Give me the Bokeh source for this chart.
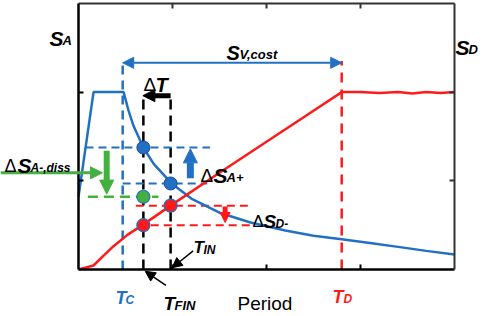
from bokeh.plotting import figure
from bokeh.models import Range1d, LinearAxis, FixedTicker, Label, Arrow, NormalHead
from bokeh.embed import file_html
from bokeh.resources import INLINE

# ---------------- data ----------------
period_sa = [0.0, 0.16, 0.48, 0.53, 0.585, 0.69, 0.80, 0.99, 1.2, 1.5, 1.83, 2.2, 2.5, 2.8, 3.1, 3.4, 3.7, 4.0]
sa = [0.82, 2.0, 2.0, 1.80, 1.62, 1.375, 1.19, 0.97, 0.80, 0.64, 0.53, 0.44, 0.38, 0.34, 0.30, 0.255, 0.21, 0.17]

period_sd = [0.0, 0.16, 0.27, 0.37, 0.52, 0.68, 0.98, 1.5, 2.0, 2.5, 2.8, 3.0, 3.2, 3.4, 3.55, 3.7, 3.85, 4.0]
sd = [0.0, 0.045, 0.16, 0.26, 0.39, 0.50, 0.72, 1.09, 1.44, 1.79, 2.0, 2.0, 1.99, 2.0, 1.985, 2.0, 1.99, 2.0]

Tc, TD = 0.47, 2.80
T_fin, T_in = 0.69, 0.98
sa_fin, sa_in = 1.375, 0.97
sd_fin, sd_in = 0.50, 0.72
sa_diss = 0.82
sv_level = 2.33
dT_level = 1.96

x_bounds = (0, 4)
y_bounds = (0, 3)
x_ticks = [1, 2, 3]
y_ticks = [1, 2]

BLUE = "#2270C4"
RED = "#FF1A1A"
GREEN = "#44B040"
BLACK = "#000000"
FONT = "Liberation Sans"

# scale: 94 px per period unit, 88.7 px per ordinate unit; origin at px (78, 269)
def X(px):
    return (px - 78) / 94.0

def Y(py):
    return (269 - py) / 88.7

p = figure(width=484, height=316, x_range=Range1d(X(0), X(484)), y_range=Range1d(Y(316), Y(0)),
           output_backend="svg", toolbar_location=None, min_border=0)
p.xgrid.visible = False
p.ygrid.visible = False
p.outline_line_color = None
p.background_fill_color = "white"
p.border_fill_color = "white"

def style_axis(ax, ticks, bounds, loc, color, width):
    ax.ticker = FixedTicker(ticks=ticks)
    ax.bounds = bounds
    ax.fixed_location = loc
    ax.major_tick_in = 5
    ax.major_tick_out = 0
    ax.minor_tick_line_color = None
    ax.major_label_overrides = {t: "" for t in ticks}
    ax.major_label_standoff = 0
    ax.axis_line_color = color
    ax.axis_line_width = width
    ax.major_tick_line_color = color
    ax.major_tick_line_width = 2

style_axis(p.xaxis[0], x_ticks, x_bounds, y_bounds[0], BLACK, 2.5)
style_axis(p.yaxis[0], y_ticks, y_bounds, x_bounds[0], BLACK, 2.5)
top = LinearAxis()
style_axis(top, x_ticks, x_bounds, y_bounds[1], "#333333", 2)
p.add_layout(top, "above")
right = LinearAxis()
style_axis(right, y_ticks, y_bounds, x_bounds[1], "#333333", 2)
p.add_layout(right, "right")

# ---------------- dashed guide lines ----------------
p.segment(x0=[Tc], y0=[0], x1=[Tc], y1=[sv_level], line_color=BLUE, line_width=2.5, line_dash="9 6")
p.segment(x0=[TD], y0=[0], x1=[TD], y1=[sv_level + 0.02], line_color=RED, line_width=2.5, line_dash="10 7")
p.segment(x0=[T_fin, T_in], y0=[0, 0], x1=[T_fin, T_in], y1=[1.93, 1.93],
          line_color=BLACK, line_width=2.5, line_dash="10 6")
p.segment(x0=[0.074, Tc], y0=[sa_fin, sa_in], x1=[1.40, 1.37], y1=[sa_fin, sa_in],
          line_color=BLUE, line_width=2, line_dash="8 5")
p.segment(x0=[0.10], y0=[sa_diss], x1=[0.85], y1=[sa_diss], line_color=GREEN, line_width=2.5, line_dash="10 6")
p.segment(x0=[0.61, 0.63], y0=[sd_in, sd_fin], x1=[1.83, 1.83], y1=[sd_in, sd_fin],
          line_color=RED, line_width=2, line_dash="8 5")

# ---------------- spectra ----------------
p.line(period_sa, sa, line_color=BLUE, line_width=2.5)
p.line(period_sd, sd, line_color=RED, line_width=2.5)

# ---------------- points ----------------
p.scatter([T_fin, T_in], [sa_fin, sa_in], size=13, fill_color=BLUE, line_color="#1A4F9A", line_width=1)
p.scatter([T_fin, T_in], [sd_fin, sd_in], size=13, fill_color=RED, line_color=BLUE, line_width=1.2)
p.scatter([T_fin], [sa_diss], size=13, fill_color=GREEN, line_color=BLUE, line_width=1.2)

# ---------------- arrows ----------------
def arrow(x0, y0, x1, y1, color, lw, size, both=False):
    end = NormalHead(size=size, fill_color=color, line_color=color, line_width=1)
    start = NormalHead(size=size, fill_color=color, line_color=color, line_width=1) if both else None
    p.add_layout(Arrow(x_start=x0, y_start=y0, x_end=x1, y_end=y1, end=end, start=start,
                       line_color=color, line_width=lw))

arrow(Tc, sv_level, TD, sv_level, BLUE, 2, 11, both=True)
arrow(T_in, dT_level, T_fin - 0.005, dT_level, BLACK, 5, 12)
arrow(1.19, 1.03, 1.19, 1.36, BLUE, 7, 14)
arrow(0.30, 1.34, 0.30, 0.85, GREEN, 6, 14)
arrow(1.56, 0.71, 1.56, 0.53, RED, 5, 10)
arrow(-0.83, 1.09, 0.255, 1.09, GREEN, 3, 12)
arrow(1.22, 0.21, 0.995, 0.02, BLACK, 1.5, 10)
arrow(0.93, -0.18, 0.71, -0.02, BLACK, 1.5, 10)

# ---------------- texts (text, px x, px baseline, size, style, color) ----------------
texts = [
    ("S", 49, 38, 21, "bold italic", BLACK), ("A", 62, 40, 13, "bold italic", BLACK),
    ("S", 455, 47, 21, "bold italic", BLACK), ("D", 468, 49, 13, "bold italic", BLACK),
    ("S", 226, 52, 20, "bold italic", BLACK), ("V,cost", 239, 54, 13, "bold italic", BLACK),
    ("\u0394", 143, 84, 19, "normal", BLACK), ("T", 155, 84, 20, "bold italic", BLACK),
    ("\u0394", 200, 175, 19, "normal", BLACK), ("S", 213, 175, 21, "bold italic", BLACK),
    ("A+", 226, 177, 13, "bold italic", BLACK),
    ("\u0394", 252, 221, 17, "normal", BLACK), ("S", 263, 221, 19, "bold italic", BLACK),
    ("D-", 275, 223, 12, "bold italic", BLACK),
    ("\u0394", 4, 165, 18, "normal", BLACK), ("S", 17, 165, 21, "bold italic", BLACK),
    ("A-,diss", 30, 167, 12, "bold italic", BLACK),
    ("T", 193, 247, 17, "bold italic", BLACK), ("IN", 203, 249, 12, "bold italic", BLACK),
    ("T", 163, 303, 19, "bold italic", BLACK), ("FIN", 174, 305, 13, "bold italic", BLACK),
    ("T", 115, 297, 18, "bold italic", BLUE), ("C", 125, 299, 12, "bold italic", BLUE),
    ("T", 332, 296, 18, "bold italic", RED), ("D", 343, 298, 12, "bold italic", RED),
    ("Period", 237, 303, 19, "normal", BLACK),
]
for t, px, py, fs, style, col in texts:
    p.add_layout(Label(x=X(px), y=Y(py), text=t, text_font=FONT, text_font_size=f"{fs}px",
                       text_font_style=style, text_color=col, text_align="left",
                       text_baseline="alphabetic"))

open("out.html", "w").write(file_html(p, INLINE))
